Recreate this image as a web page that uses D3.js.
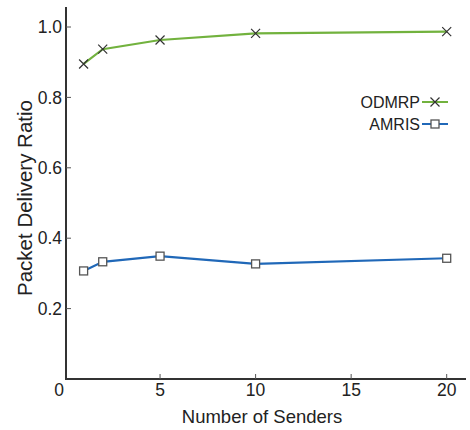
<!DOCTYPE html>
<html>
<head>
<meta charset="utf-8">
<script src="https://cdn.jsdelivr.net/npm/d3@7"></script>
<style>
  body { margin: 0; background: #fff; }
  text { font-family: Arial, "Liberation Sans", sans-serif; fill: #222; }
</style>
</head>
<body>
<svg id="chart" width="470" height="430"></svg>
<script>
// data
const senders = [1, 2, 5, 10, 20];
const odmrp = [0.895, 0.937, 0.963, 0.982, 0.987];
const amris = [0.307, 0.333, 0.349, 0.327, 0.343];
const xTicks = [0, 5, 10, 15, 20];
const yTicks = [0.2, 0.4, 0.6, 0.8, 1.0];

const svg = d3.select("#chart");
const axLeft = 66, axBottom = 379, axTop = 7, axRight = 466;

const x = d3.scaleLinear().domain([0, 20]).range([64.5, 446.7]);
const y = d3.scaleLinear().domain([0, 1]).range([axBottom, 27]);

// axes frame (only left and bottom)
svg.append("line").attr("x1", axLeft).attr("x2", axLeft).attr("y1", axTop).attr("y2", axBottom)
  .attr("stroke", "#333").attr("stroke-width", 2);
svg.append("line").attr("x1", axLeft - 1).attr("x2", axRight).attr("y1", axBottom).attr("y2", axBottom)
  .attr("stroke", "#333").attr("stroke-width", 2);

// y ticks (inside) + labels
const yg = svg.append("g");
yg.selectAll("line").data(yTicks).enter().append("line")
  .attr("x1", axLeft).attr("x2", axLeft + 5)
  .attr("y1", d => y(d)).attr("y2", d => y(d))
  .attr("stroke", "#555").attr("stroke-width", 1);
yg.selectAll("text").data(yTicks).enter().append("text")
  .attr("x", 62).attr("y", d => y(d)).attr("dy", "0.35em")
  .attr("text-anchor", "end").style("font-size", "17.5px")
  .text(d => d3.format(".1f")(d));

// x ticks (inside) + labels
const xg = svg.append("g");
xg.selectAll("line").data(xTicks.filter(d => d > 0)).enter().append("line")
  .attr("x1", d => x(d)).attr("x2", d => x(d))
  .attr("y1", axBottom).attr("y2", axBottom - 5)
  .attr("stroke", "#555").attr("stroke-width", 1);
xg.selectAll("text").data(xTicks).enter().append("text")
  .attr("x", d => d === 0 ? 59 : x(d)).attr("y", 396)
  .attr("text-anchor", "middle").style("font-size", "17.5px")
  .text(d => d);

// axis titles
svg.append("text").attr("x", 262).attr("y", 423).attr("text-anchor", "middle")
  .style("font-size", "18.5px").text("Number of Senders");
svg.append("text").attr("transform", "translate(32,198) rotate(-90)")
  .attr("text-anchor", "middle").style("font-size", "20.5px").text("Packet Delivery Ratio");

const line = d3.line().x(d => x(d[0])).y(d => y(d[1]));
const green = "#72b23e", blue = "#2068b8";

const odPts = senders.map((s, i) => [s, odmrp[i]]);
const amPts = senders.map((s, i) => [s, amris[i]]);

svg.append("path").datum(odPts).attr("d", line).attr("fill", "none")
  .attr("stroke", green).attr("stroke-width", 2.2);
svg.append("path").datum(amPts).attr("d", line).attr("fill", "none")
  .attr("stroke", blue).attr("stroke-width", 2.2);

function cross(g, cx, cy) {
  const r = 4.5;
  g.append("path").attr("d", `M${cx - r},${cy - r}L${cx + r},${cy + r}M${cx - r},${cy + r}L${cx + r},${cy - r}`)
    .attr("stroke", "#333").attr("stroke-width", 1.2).attr("fill", "none");
}
function square(g, cx, cy) {
  g.append("rect").attr("x", cx - 4).attr("y", cy - 4).attr("width", 8).attr("height", 8)
    .attr("fill", "#fff").attr("stroke", "#555").attr("stroke-width", 1.3);
}

const mk = svg.append("g");
odPts.forEach(d => cross(mk, x(d[0]), y(d[1])));
amPts.forEach(d => square(mk, x(d[0]), y(d[1])));

// legend
const lg = svg.append("g");
const entries = [["ODMRP", green, cross, 102], ["AMRIS", blue, square, 124]];
entries.forEach(([name, col, fn, ly]) => {
  lg.append("text").attr("x", 420).attr("y", ly).attr("dy", "0.35em")
    .attr("text-anchor", "end").style("font-size", "16px").text(name);
  lg.append("line").attr("x1", 422).attr("x2", 448).attr("y1", ly).attr("y2", ly)
    .attr("stroke", col).attr("stroke-width", 2);
  fn(lg, 435, ly);
});
</script>
</body>
</html>
